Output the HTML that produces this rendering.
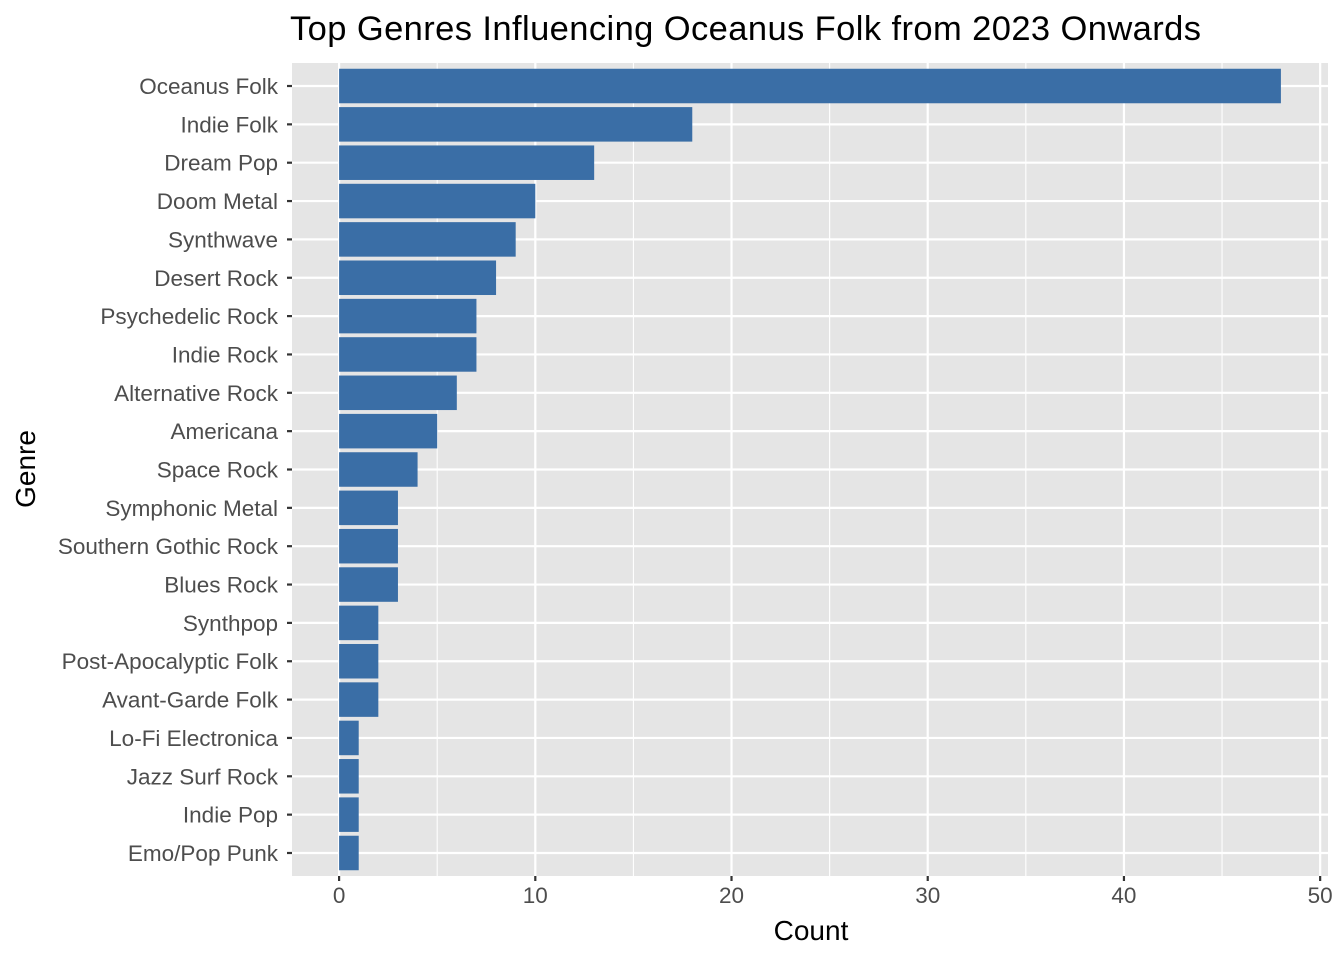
<!DOCTYPE html>
<html><head><meta charset="utf-8"><style>
body{margin:0;background:#fff}
svg text{font-family:"Liberation Sans",Arial,sans-serif}
</style></head><body>
<svg id="chart" width="1344" height="960">
<text x="290" y="40" font-size="34.5" fill="#000" textLength="911">Top Genres Influencing Oceanus Folk from 2023 Onwards</text>
<rect x="292" y="63" width="1036" height="813" fill="#e5e5e5"/>
<g id="grid"></g><g id="bars"></g><g id="yaxis"></g><g id="xaxis"></g>
<text x="811" y="940" font-size="28" text-anchor="middle" fill="#000">Count</text>
<text transform="translate(35,469) rotate(-90)" font-size="28" text-anchor="middle" fill="#000">Genre</text>
</svg>
<script>
const genres=["Oceanus Folk","Indie Folk","Dream Pop","Doom Metal","Synthwave","Desert Rock","Psychedelic Rock","Indie Rock","Alternative Rock","Americana","Space Rock","Symphonic Metal","Southern Gothic Rock","Blues Rock","Synthpop","Post-Apocalyptic Folk","Avant-Garde Folk","Lo-Fi Electronica","Jazz Surf Rock","Indie Pop","Emo/Pop Punk"];
const counts=[48,18,13,10,9,8,7,7,6,5,4,3,3,3,2,2,2,1,1,1,1];
const xTicks=[0,10,20,30,40,50];
const xMinor=[5,15,25,35,45];
const NS="http://www.w3.org/2000/svg";
const pL=292,pR=1328,pT=63,pB=876;
const maxV=Math.max(...counts);
const lo=-maxV*0.05,hi=maxV*1.05;
const x=v=>pL+(v-lo)/(hi-lo)*(pR-pL);
const step=(pB-pT)/(genres.length+0.2);
const y=i=>pT+step*(0.6+i);
function mk(t,a,p){const e=document.createElementNS(NS,t);for(const k in a)e.setAttribute(k,a[k]);p.appendChild(e);return e;}
const grid=document.getElementById('grid'),bars=document.getElementById('bars'),ya=document.getElementById('yaxis'),xa=document.getElementById('xaxis');
xMinor.forEach(v=>{const l=mk('line',{x1:x(v),x2:x(v),y1:pT,y2:pB,stroke:'#fff','stroke-width':1.1},grid);

});
xTicks.forEach(v=>{const l=mk('line',{x1:x(v),x2:x(v),y1:pT,y2:pB,stroke:'#fff','stroke-width':2.2},grid);


const t=mk('line',{x1:x(v),x2:x(v),y1:pB,y2:pB+5,stroke:'#333','stroke-width':2.2},xa);


const tx=mk('text',{x:x(v),y:pB+27,'font-size':22.5,'text-anchor':'middle',fill:'#4d4d4d'},xa);tx.textContent=v;

});
genres.forEach((g,i)=>{const cy=y(i);
const l=mk('line',{x1:pL,x2:pR,y1:cy,y2:cy,stroke:'#fff','stroke-width':2.2},grid);


const h=step*0.9;
const b=mk('rect',{x:x(0),y:cy-h/2,width:x(counts[i])-x(0),height:h,fill:'#3a6ea6'},bars);


const t=mk('line',{x1:pL-5,x2:pL,y1:cy,y2:cy,stroke:'#333','stroke-width':2.2},ya);


const tx=mk('text',{x:pL-14,y:cy+8,'font-size':22.5,'text-anchor':'end',fill:'#4d4d4d'},ya);tx.textContent=g;

});
</script>
</body></html>
